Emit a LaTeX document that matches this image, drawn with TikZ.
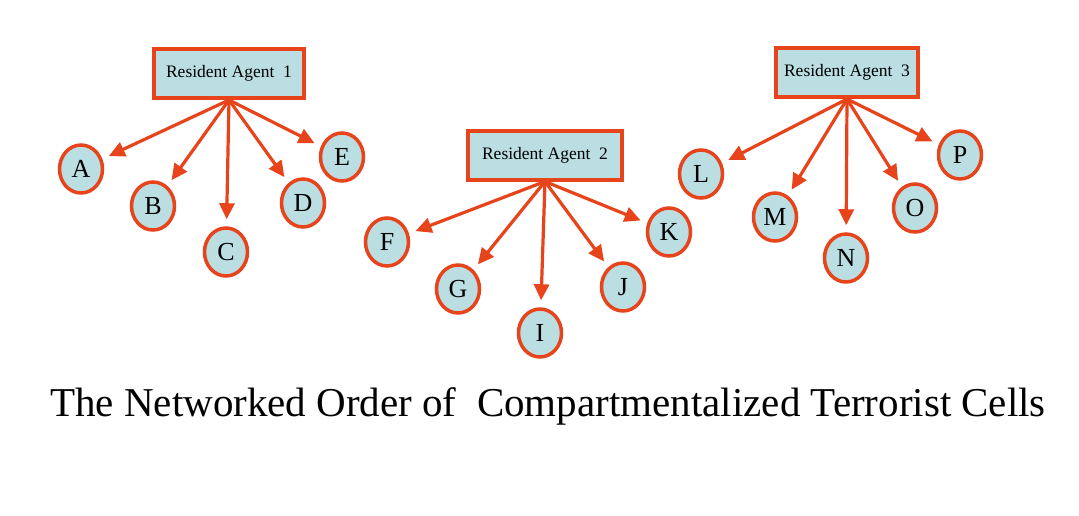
\documentclass[tikz,border=0pt]{standalone}
\usepackage{fontspec}
\setmainfont{Liberation Serif}
\usepackage{xcolor}
\usetikzlibrary{arrows.meta,shapes.geometric}
\definecolor{cellred}{RGB}{232,68,28}
\definecolor{cellblue}{RGB}{186,222,226}

\begin{document}
\begin{tikzpicture}[x=1pt,y=1pt,yscale=-1,xscale=1,
  agent/.style={draw=cellred,fill=cellblue,line width=4pt,minimum height=49pt,inner sep=0pt,font=\fontsize{17.5}{19}\selectfont},
  member/.style={ellipse,draw=cellred,fill=cellblue,line width=3.5pt,minimum width=43pt,minimum height=48pt,inner sep=0pt,font=\fontsize{26}{28}\selectfont},
  link/.style={draw=cellred,line width=3.2pt,shorten >=7pt,-{Triangle[length=16pt,width=15pt]}}]
\useasboundingbox (0,0) rectangle (1079,515);

%Resident agents
\node [agent,minimum width=150pt] (ra1) at (229,73.5) {Resident Agent\ \ 1};
\node [agent,minimum width=154pt] (ra2) at (545,155) {Resident Agent\ \ 2};
\node [agent,minimum width=142pt] (ra3) at (847,72.5) {Resident Agent\ \ 3};

%Cell 1
\node [member] (a) at (81,169) {A};
\node [member] (b) at (153,206) {B};
\node [member] (c) at (226,252) {C};
\node [member] (d) at (303,203) {D};
\node [member] (e) at (342,157) {E};
%Cell 2
\node [member] (f) at (387,242) {F};
\node [member] (g) at (458,289) {G};
\node [member] (i) at (540,333) {I};
\node [member] (j) at (623,287) {J};
\node [member] (k) at (669,232) {K};
%Cell 3
\node [member] (l) at (701,174) {L};
\node [member] (m) at (775,217) {M};
\node [member] (n) at (846,258) {N};
\node [member] (o) at (915,208) {O};
\node [member] (p) at (960,155) {P};

%Links
\foreach \cell in {a,b,c,d,e} \draw [link] (ra1.south) -- (\cell);
\foreach \cell in {f,g,i,j,k} \draw [link] (ra2.south) -- (\cell);
\foreach \cell in {l,m,n,o,p} \draw [link] (ra3.south) -- (\cell);

% Text Node
\node [anchor=base,font=\fontsize{41}{45}\selectfont] (title) at (548,416) {The Networked Order of\ \ Compartmentalized Terrorist Cells};
\end{tikzpicture}
\end{document}
